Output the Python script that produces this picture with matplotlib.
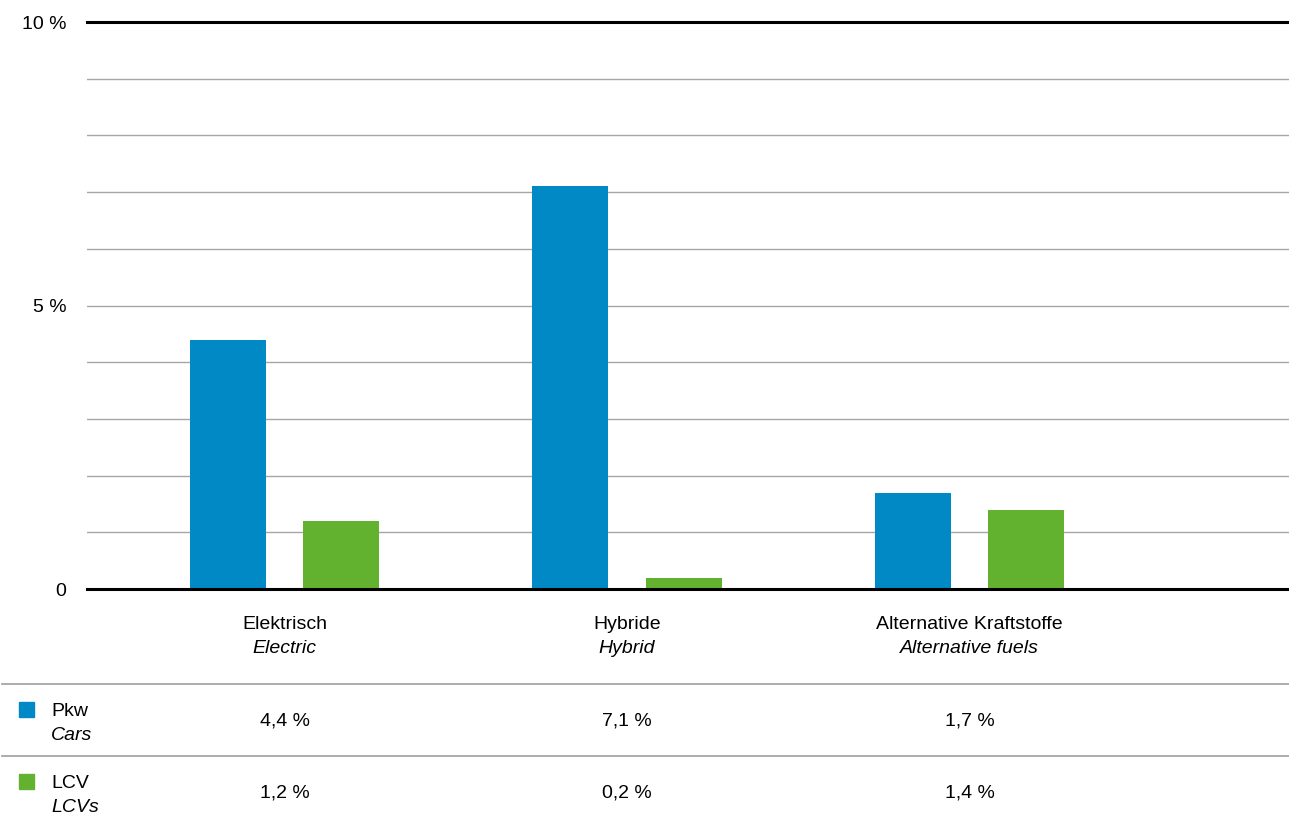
"""Antriebsarten Pkw / LCV: grouped bar chart with data table underneath."""

import matplotlib

matplotlib.use("Agg")
import matplotlib.pyplot as plt
from matplotlib.patches import Rectangle
from matplotlib.transforms import blended_transform_factory

plt.rcParams["font.family"] = ["Liberation Sans", "DejaVu Sans"]

# Data
categories_de = ["Elektrisch", "Hybride", "Alternative Kraftstoffe"]
categories_en = ["Electric", "Hybrid", "Alternative fuels"]
series_de = ["Pkw", "LCV"]
series_en = ["Cars", "LCVs"]
pkw_values = [4.4, 7.1, 1.7]
lcv_values = [1.2, 0.2, 1.4]
value_labels = [["4,4 %", "7,1 %", "1,7 %"], ["1,2 %", "0,2 %", "1,4 %"]]
y_ticks = [0, 5, 10]
y_tick_labels = ["0", "5 %", "10 %"]

BLUE = "#0089C4"
GREEN = "#62B22F"
GRID = "#a6a6a6"
FS = 14

W, H = 1289, 821
fig = plt.figure(figsize=(W / 100, H / 100), dpi=100)


def fy(py):
    """Pixel row (from top) to figure fraction."""
    return 1 - py / H


ax = fig.add_axes([87 / W, fy(589), 1202 / W, (589 - 22) / H])

x = list(range(len(categories_de)))
offset = 0.166
width = 0.222
ax.bar([i - offset for i in x], pkw_values, width=width, color=BLUE, zorder=3)
ax.bar([i + offset for i in x], lcv_values, width=width, color=GREEN, zorder=3)

ax.set_xlim(-0.577, 2.933)
ax.set_ylim(0, 10)

# gridlines every 1 %
for v in range(1, 10):
    ax.axhline(v, color=GRID, linewidth=1.0, zorder=1)
ax.axhline(0, color="black", linewidth=2.2, zorder=4, clip_on=False)
ax.axhline(10, color="black", linewidth=2.2, zorder=4, clip_on=False)

for s in ax.spines.values():
    s.set_visible(False)
ax.set_xticks([])
ax.set_yticks(y_ticks)
ax.set_yticklabels(y_tick_labels, fontsize=FS)
ax.tick_params(axis="y", length=0, pad=15)

# Category labels and table below the axes
trans = blended_transform_factory(ax.transData, fig.transFigure)
for i in x:
    fig.text(i, fy(629), categories_de[i], transform=trans, ha="center", va="baseline",
             fontsize=FS)
    fig.text(i, fy(653), categories_en[i], transform=trans, ha="center", va="baseline",
             fontsize=FS, style="italic")

for py in (684, 756):
    fig.add_artist(plt.Line2D([2 / W, 1], [fy(py), fy(py)], color=GRID, linewidth=1.3))

row_base = [716, 788]
colors = [BLUE, GREEN]
for r in range(2):
    b = row_base[r]
    fig.add_artist(Rectangle((19 / W, fy(b + 1)), 15 / W, 15 / H,
                             transform=fig.transFigure, color=colors[r]))
    fig.text(51 / W, fy(b), series_de[r], ha="left", va="baseline", fontsize=FS)
    fig.text(51 / W, fy(b + 24), series_en[r], ha="left", va="baseline", fontsize=FS,
             style="italic")
    for i in x:
        fig.text(i, fy(b + 9.5), value_labels[r][i], transform=trans, ha="center",
                 va="baseline", fontsize=FS)

fig.savefig("out.png", dpi=100)
